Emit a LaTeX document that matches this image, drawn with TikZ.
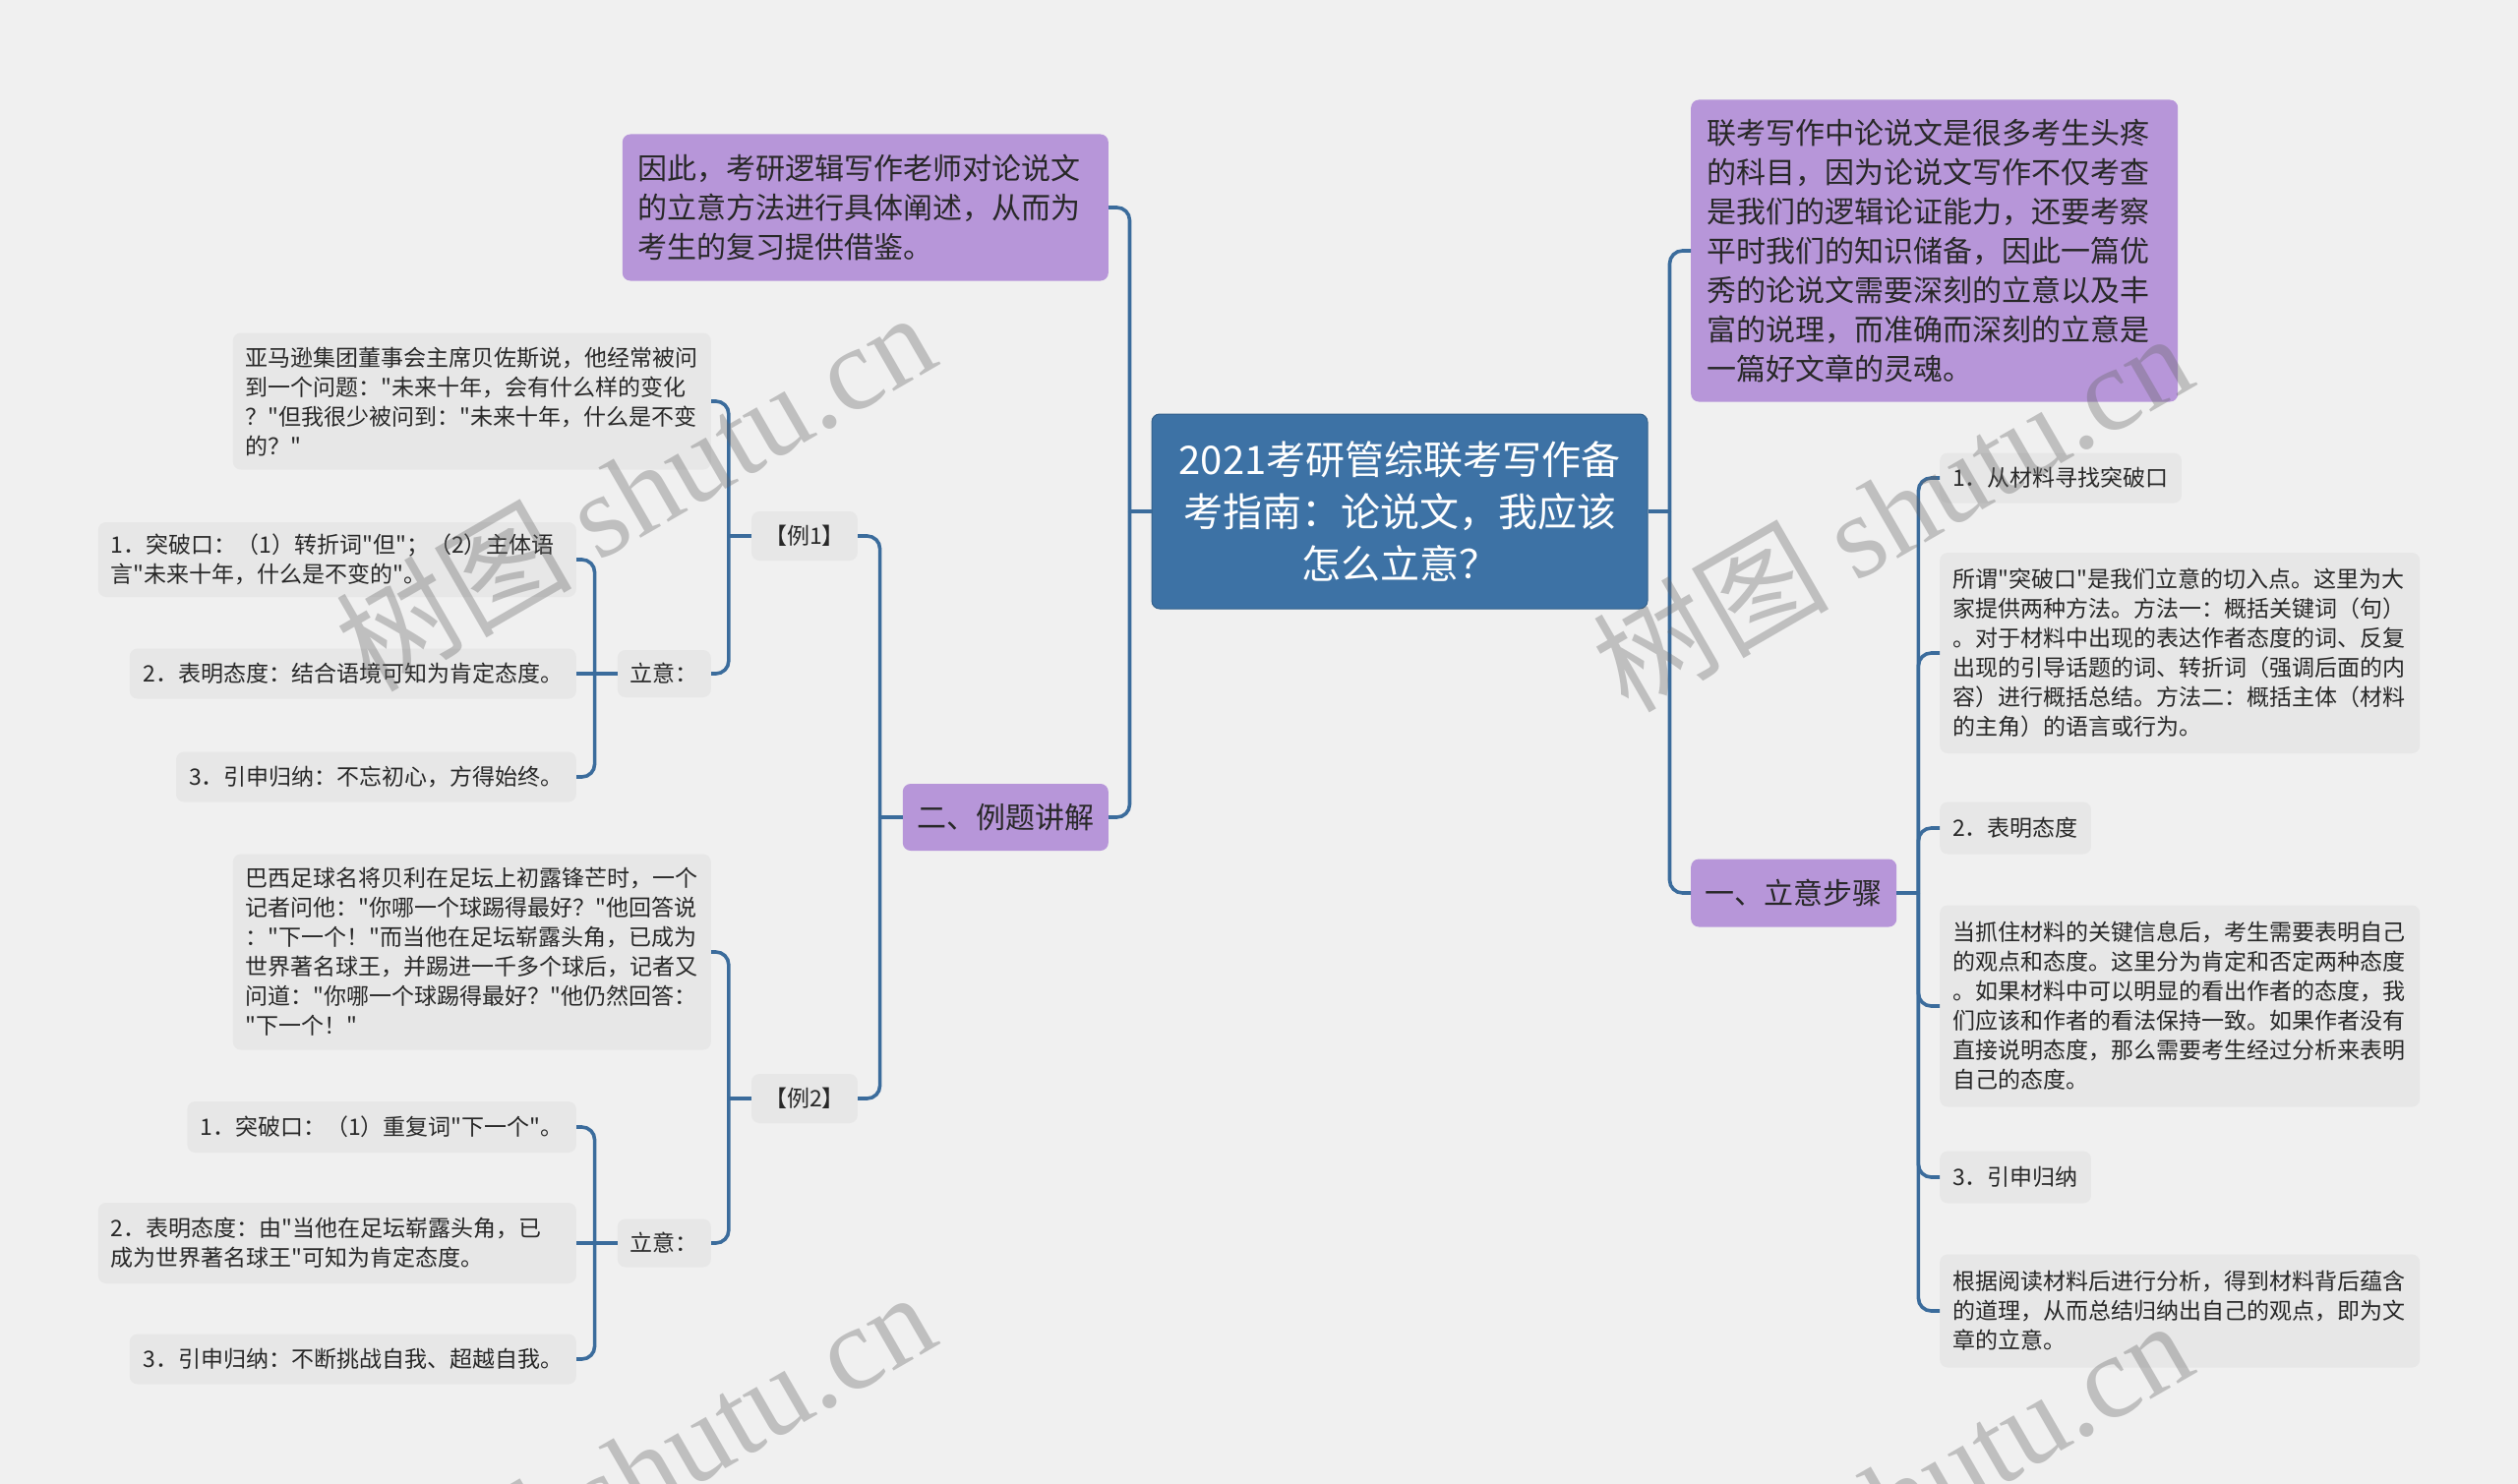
\documentclass[tikz,border=0pt]{standalone}
\usepackage{fontspec}
\setmainfont{Noto Sans CJK SC}[Ligatures=TeXOff]
\newfontfamily\cjk{Noto Sans CJK SC}[Ligatures=TeXOff]
\newfontfamily\wmserif{Liberation Serif}
\definecolor{bgc}{RGB}{240,240,240}
\definecolor{boxg}{RGB}{231,231,231}
\definecolor{purp}{RGB}{183,150,217}
\definecolor{cblue}{RGB}{61,114,165}
\definecolor{linec}{RGB}{59,108,156}
\definecolor{txt}{RGB}{40,40,40}
\tikzset{
  base/.style={rounded corners=8pt, text=txt, inner sep=0pt, align=left},
  gbox/.style={base, fill=boxg, font=\fontsize{23}{30}\selectfont, inner xsep=13pt},
  pbox/.style={base, fill=purp, font=\fontsize{30}{40}\selectfont, inner xsep=16pt},
  conn/.style={draw=linec, line width=3.6pt, rounded corners=13pt},
  wm/.style={text=black!60, text opacity=0.35, rotate=30, font=\fontsize{120}{120}\selectfont, inner sep=0pt},
}
\begin{document}
\begin{tikzpicture}[x=1pt,y=-1pt]
\useasboundingbox (0,0) rectangle (2560,1509);
\fill[bgc] (0,0) rectangle (2560,1509);

% central
\node[fill=cblue, draw=cblue!85!black, line width=1pt, rounded corners=8pt, text=white,
  font=\fontsize{40}{53}\selectfont, align=center, minimum width=504pt, minimum height=198pt, inner sep=0pt]
  (c) at (1423,520) {2021考研管综联考写作备\\考指南：论说文，我应该\\怎么立意？};

% left main branch
\node[pbox, anchor=east, text width=462pt, minimum height=149pt] (lp) at (1127,211)
  {因此，考研逻辑写作老师对论说文\\的立意方法进行具体阐述，从而为\\考生的复习提供借鉴。};
\node[base, fill=purp, anchor=east, align=center, minimum width=209pt, minimum height=68pt,
  font=\fontsize{30}{40}\selectfont] (ex) at (1127,831) {二、例题讲解};

\node[gbox, anchor=east, align=center, minimum width=103pt, minimum height=50pt] (e1) at (872,545) {【例1】};
\node[gbox, anchor=east, align=center, minimum width=103pt, minimum height=50pt] (e2) at (872,1117) {【例2】};

\node[gbox, anchor=east, text width=460pt, minimum height=139pt] (a1) at (723,408)
  {亚马逊集团董事会主席贝佐斯说，他经常被问\\到一个问题："未来十年，会有什么样的变化\\？"但我很少被问到："未来十年，什么是不变\\的？"};
\node[gbox, anchor=east, align=center, minimum width=90pt, minimum height=48pt] (y1) at (723,685) {立意：};

\node[gbox, anchor=east, text width=460pt, minimum height=76pt] (b11) at (586,569)
  {1．突破口：（1）转折词"但"；（2）主体语\\言"未来十年，什么是不变的"。};
\node[gbox, anchor=east, align=center, minimum width=454pt, minimum height=51pt] (b12) at (586,685)
  {2．表明态度：结合语境可知为肯定态度。};
\node[gbox, anchor=east, align=center, minimum width=406pt, minimum height=51pt] (b13) at (586,790)
  {3．引申归纳：不忘初心，方得始终。};

\node[gbox, anchor=east, text width=460pt, minimum height=199pt] (a2) at (723,968)
  {巴西足球名将贝利在足坛上初露锋芒时，一个\\记者问他："你哪一个球踢得最好？"他回答说\\："下一个！"而当他在足坛崭露头角，已成为\\世界著名球王，并踢进一千多个球后，记者又\\问道："你哪一个球踢得最好？"他仍然回答：\\"下一个！"};
\node[gbox, anchor=east, align=center, minimum width=90pt, minimum height=49pt] (y2) at (723,1264) {立意：};

\node[gbox, anchor=east, align=center, minimum width=395pt, minimum height=52pt] (b21) at (586,1146)
  {1．突破口：（1）重复词"下一个"。};
\node[gbox, anchor=east, text width=460pt, minimum height=82pt] (b22) at (586,1264)
  {2．表明态度：由"当他在足坛崭露头角，已\\成为世界著名球王"可知为肯定态度。};
\node[gbox, anchor=east, align=center, minimum width=454pt, minimum height=51pt] (b23) at (586,1382)
  {3．引申归纳：不断挑战自我、超越自我。};

% right main branch
\node[pbox, anchor=west, text width=463pt, minimum height=307pt] (rp) at (1719,255)
  {联考写作中论说文是很多考生头疼\\的科目，因为论说文写作不仅考查\\是我们的逻辑论证能力，还要考察\\平时我们的知识储备，因此一篇优\\秀的论说文需要深刻的立意以及丰\\富的说理，而准确而深刻的立意是\\一篇好文章的灵魂。};
\node[base, fill=purp, anchor=west, align=center, minimum width=209pt, minimum height=69pt,
  font=\fontsize{30}{40}\selectfont] (st) at (1719,908) {一、立意步骤};

\node[gbox, anchor=west, align=center, minimum width=245pt, minimum height=51pt] (r1) at (1972,486) {1．从材料寻找突破口};
\node[gbox, anchor=west, text width=462pt, minimum height=204pt] (r2) at (1972,664)
  {所谓"突破口"是我们立意的切入点。这里为大\\家提供两种方法。方法一：概括关键词（句）\\。对于材料中出现的表达作者态度的词、反复\\出现的引导话题的词、转折词（强调后面的内\\容）进行概括总结。方法二：概括主体（材料\\的主角）的语言或行为。};
\node[gbox, anchor=west, align=center, minimum width=152pt, minimum height=53pt] (r3) at (1972,842) {2．表明态度};
\node[gbox, anchor=west, text width=462pt, minimum height=205pt] (r4) at (1972,1023)
  {当抓住材料的关键信息后，考生需要表明自己\\的观点和态度。这里分为肯定和否定两种态度\\。如果材料中可以明显的看出作者的态度，我\\们应该和作者的看法保持一致。如果作者没有\\直接说明态度，那么需要考生经过分析来表明\\自己的态度。};
\node[gbox, anchor=west, align=center, minimum width=152pt, minimum height=53pt] (r5) at (1972,1197) {3．引申归纳};
\node[gbox, anchor=west, text width=462pt, minimum height=115pt] (r6) at (1972,1333)
  {根据阅读材料后进行分析，得到材料背后蕴含\\的道理，从而总结归纳出自己的观点，即为文\\章的立意。};

% connectors
\draw[conn] (c.west) -- ++(-22,0) coordinate (jL);
\draw[conn] (jL) |- (lp.east);
\draw[conn] (jL) |- (ex.east);
\draw[conn] (c.east) -- ++(22,0) coordinate (jR);
\draw[conn] (jR) |- (rp.west);
\draw[conn] (jR) |- (st.west);

\draw[conn] (ex.west) -- ++(-23,0) coordinate (jE);
\draw[conn] (jE) |- (e1.east);
\draw[conn] (jE) |- (e2.east);

\draw[conn] (e1.west) -- ++(-23,0) coordinate (j1);
\draw[conn] (j1) |- (a1.east);
\draw[conn] (j1) |- (y1.east);
\draw[conn] (y1.west) -- ++(-23,0) coordinate (jy1);
\draw[conn] (jy1) |- (b11.east);
\draw[conn] (jy1) -- (b12.east);
\draw[conn] (jy1) |- (b13.east);

\draw[conn] (e2.west) -- ++(-23,0) coordinate (j2);
\draw[conn] (j2) |- (a2.east);
\draw[conn] (j2) |- (y2.east);
\draw[conn] (y2.west) -- ++(-23,0) coordinate (jy2);
\draw[conn] (jy2) |- (b21.east);
\draw[conn] (jy2) -- (b22.east);
\draw[conn] (jy2) |- (b23.east);

\draw[conn] (st.east) -- ++(22,0) coordinate (jS);
\foreach \n in {r1,r2,r3,r4,r5,r6} \draw[conn] (jS) |- (\n.west);

% watermarks
\begin{scope}
\clip (0,0) rectangle (2560,1509);
\node[wm] (wm1) at (645,498) {{\cjk 树图} {\wmserif shutu.cn}};
\node[wm] (wm2) at (1923,519) {{\cjk 树图} {\wmserif shutu.cn}};
\node[wm] (wm3) at (645,1494) {{\cjk 树图} {\wmserif shutu.cn}};
\node[wm] (wm4) at (1923,1523) {{\cjk 树图} {\wmserif shutu.cn}};
\end{scope}
\end{tikzpicture}
\end{document}
